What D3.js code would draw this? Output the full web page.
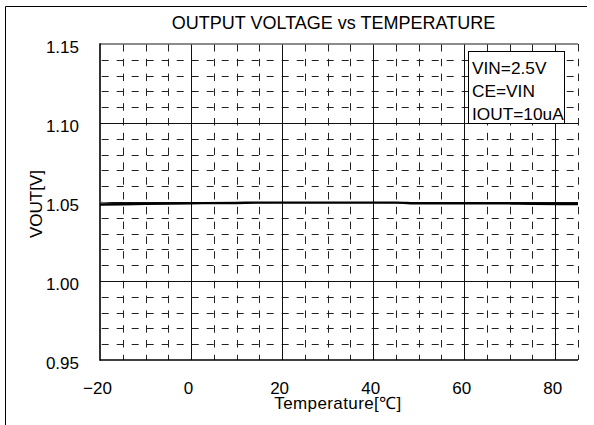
<!DOCTYPE html>
<html>
<head>
<meta charset="utf-8">
<script src="https://cdn.jsdelivr.net/npm/d3@7"></script>
<style>
  html, body { margin: 0; padding: 0; background: #fff; }
  svg { display: block; font-family: "Liberation Sans", Arial, sans-serif; }
</style>
</head>
<body>
<svg id="chart" width="594" height="425"></svg>
<script>
// Output voltage over ambient temperature
const temperatures = [-20, -10, 0, 10, 15, 20, 30, 40, 45, 50, 60, 70, 75, 85];
const vout = [1.0484, 1.0488, 1.0492, 1.0494, 1.0496, 1.0496, 1.0496, 1.0496, 1.0496, 1.0492, 1.0492, 1.0491, 1.0489, 1.0487];

// second sample, overlapping the first except at the cold end
const temperatures2 = [-20, -15, -10, 0, 20, 40, 60, 85];
const vout2 = [1.0500, 1.0487, 1.0488, 1.0492, 1.0496, 1.0496, 1.0492, 1.0487];

const xMajor = [-20, 0, 20, 40, 60, 80];
const xTickLabels = ["\u221220", "0", "20", "40", "60", "80"];
const yMajor = [0.95, 1.00, 1.05, 1.10, 1.15];
const yTickLabels = ["0.95", "1.00", "1.05", "1.10", "1.15"];

const conditions = ["VIN=2.5V", "CE=VIN", "IOUT=10uA"];

const svg = d3.select("#chart");
const plot = { left: 100, right: 578, top: 44, bottom: 360 };

const x = d3.scaleLinear().domain([-20, 85]).range([plot.left, plot.right]);
const y = d3.scaleLinear().domain([0.95, 1.15]).range([plot.bottom, plot.top]);

const crisp = v => Math.round(v) + 0.5;

// minor grid every 5 degC and every 10 mV
const xMinor = d3.range(-15, 86, 5).filter(t => !xMajor.includes(t));
const yMinor = d3.range(96, 115, 1).map(v => v / 100).filter(v => !yMajor.some(m => Math.abs(m - v) < 1e-9));

const grid = svg.append("g");

grid.selectAll("line.hminor").data(yMinor).join("line")
  .attr("class", "hminor")
  .attr("x1", plot.left).attr("x2", plot.right)
  .attr("y1", d => crisp(y(d))).attr("y2", d => crisp(y(d)))
  .attr("stroke", "#222").attr("stroke-width", 1)
  .attr("stroke-dasharray", "7,8").attr("stroke-dashoffset", 13.3);

grid.selectAll("line.vminor").data(xMinor).join("line")
  .attr("class", "vminor")
  .attr("x1", d => crisp(x(d))).attr("x2", d => crisp(x(d)))
  .attr("y1", plot.top).attr("y2", plot.bottom)
  .attr("stroke", "#222").attr("stroke-width", 1)
  .attr("stroke-dasharray", "7.5,7.3");

grid.selectAll("line.hmajor").data(yMajor.slice(1, -1)).join("line")
  .attr("class", "hmajor")
  .attr("x1", plot.left).attr("x2", plot.right)
  .attr("y1", d => crisp(y(d))).attr("y2", d => crisp(y(d)))
  .attr("stroke", "#111").attr("stroke-width", 1);

grid.selectAll("line.vmajor").data(xMajor.slice(1)).join("line")
  .attr("class", "vmajor")
  .attr("x1", d => crisp(x(d))).attr("x2", d => crisp(x(d)))
  .attr("y1", plot.top).attr("y2", plot.bottom)
  .attr("stroke", "#111").attr("stroke-width", 1);

// plot frame: top edge, left axis and bottom axis
grid.append("line")
  .attr("x1", plot.left).attr("x2", plot.right)
  .attr("y1", y(1.15)).attr("y2", y(1.15))
  .attr("stroke", "#666").attr("stroke-width", 1.6);
grid.append("line")
  .attr("x1", x(-20)).attr("x2", x(-20))
  .attr("y1", plot.top - 0.8).attr("y2", plot.bottom + 0.8)
  .attr("stroke", "#000").attr("stroke-width", 1.6);
grid.append("line")
  .attr("x1", plot.left).attr("x2", plot.right)
  .attr("y1", y(0.95)).attr("y2", y(0.95))
  .attr("stroke", "#000").attr("stroke-width", 1.6);

// data curves
svg.append("clipPath").attr("id", "plotClip").append("rect")
  .attr("x", plot.left).attr("y", plot.top)
  .attr("width", plot.right - plot.left).attr("height", plot.bottom - plot.top);

const line = d3.line().x(d => x(d[0])).y(d => y(d[1])).curve(d3.curveMonotoneX);

svg.append("path")
  .datum(d3.zip(temperatures2, vout2))
  .attr("clip-path", "url(#plotClip)")
  .attr("fill", "none").attr("stroke", "#777").attr("stroke-width", 1)
  .attr("d", line);

svg.append("path")
  .datum(d3.zip(temperatures, vout))
  .attr("clip-path", "url(#plotClip)")
  .attr("fill", "none").attr("stroke", "#000").attr("stroke-width", 2.4)
  .attr("d", line);

// measurement conditions box
const box = svg.append("g");
box.append("rect")
  .attr("x", 468.5).attr("y", 51.5).attr("width", 96).attr("height", 72)
  .attr("fill", "#fff").attr("stroke", "#000").attr("stroke-width", 1);
box.selectAll("text").data(conditions).join("text")
  .attr("x", 472).attr("y", (d, i) => 74 + i * 23)
  .attr("font-size", 17.3).attr("fill", "#000")
  .text(d => d);

// tick labels
svg.append("g").selectAll("text").data(yMajor).join("text")
  .attr("x", 79).attr("y", d => y(d) + 8.5)
  .attr("text-anchor", "end").attr("font-size", 17).attr("fill", "#000")
  .text((d, i) => yTickLabels[i]);

svg.append("g").selectAll("text").data(xMajor).join("text")
  .attr("x", d => x(d) - 2.5).attr("y", 394)
  .attr("text-anchor", "middle").attr("font-size", 17).attr("fill", "#000")
  .text((d, i) => xTickLabels[i]);

// titles
svg.append("text")
  .attr("x", 333.5).attr("y", 29.3)
  .attr("text-anchor", "middle").attr("font-size", 18).attr("fill", "#000")
  .text("OUTPUT VOLTAGE vs TEMPERATURE");

svg.append("text")
  .attr("x", 338).attr("y", 409)
  .attr("text-anchor", "middle").attr("font-size", 17)
  .attr("letter-spacing", 0.4).attr("fill", "#000")
  .text("Temperature[\u2103]");

svg.append("text")
  .attr("transform", "translate(42,204) rotate(-90)")
  .attr("text-anchor", "middle").attr("font-size", 17).attr("fill", "#000")
  .text("VOUT[V]");

// outer frame
svg.append("path")
  .attr("d", "M5.5,425 V6.5 H587")
  .attr("fill", "none").attr("stroke", "#000").attr("stroke-width", 1);
</script>
</body>
</html>
